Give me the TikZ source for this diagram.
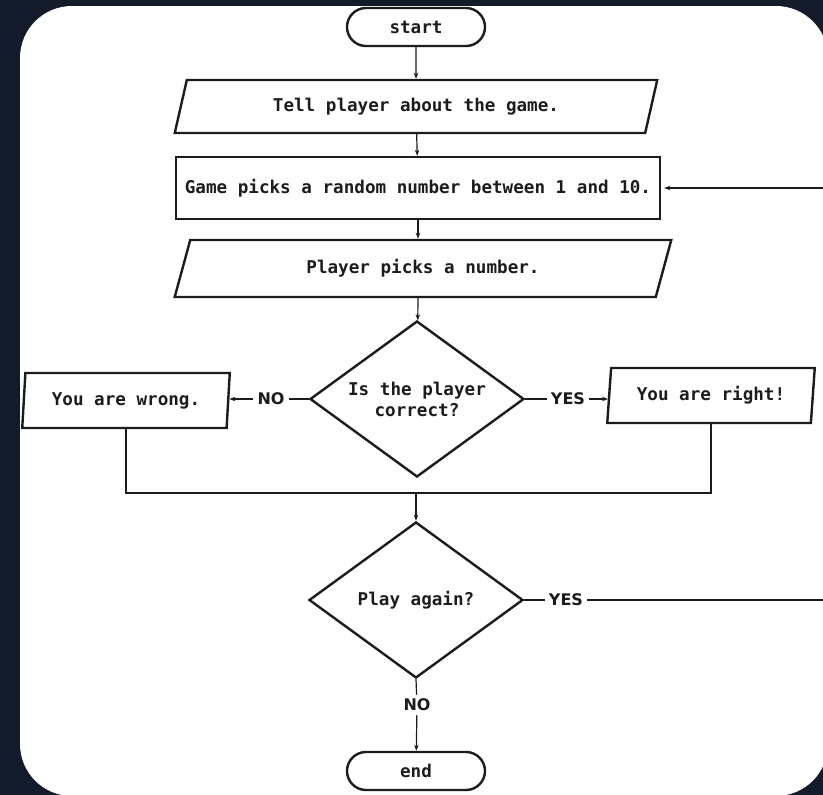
\documentclass[tikz,border=0pt]{standalone}
\usepackage{fontspec}
\setmonofont{DejaVu Sans Mono}
\newfontfamily\labelfont{DejaVu Sans}
\usepackage{tikz}
\usetikzlibrary{arrows.meta,shapes.geometric,positioning}
\definecolor{navy}{RGB}{19,26,42}
\definecolor{ink}{RGB}{28,28,28}

\begin{document}
\begin{tikzpicture}[x=1pt,y=-1pt,
			every node/.style={font=\fontsize{17.6}{21}\selectfont\ttfamily\bfseries,text=ink},
			terminal/.style={draw=ink,line width=2.4pt,rounded corners=19pt,minimum width=138pt,minimum height=38pt},
			io/.style={draw=ink,line width=2.4pt,trapezium,trapezium left angle=72,trapezium right angle=108,
				trapezium stretches=true,minimum height=53pt},
			process/.style={draw=ink,line width=2.4pt,minimum width=484pt,minimum height=62pt},
			decision/.style={draw=ink,line width=2.4pt,diamond,aspect=1.38,minimum width=214pt,minimum height=156pt,
				inner sep=0pt,align=center},
			answer/.style={font=\fontsize{16}{18}\selectfont\labelfont\bfseries,inner sep=4pt},
			flow/.style={draw=ink,line width=1.2pt,-{Stealth[length=6pt,width=4.5pt]}},
			link/.style={draw=ink,line width=1.2pt}]

			\useasboundingbox (0,0) rectangle (823,795);
			\fill[navy] (0,0) rectangle (823,795);
			\fill[white,rounded corners=52pt] (20,6) rectangle (828,796);

			\node [terminal] (start) at (416,27) {start};
			\node [io,minimum width=484pt] (tell) at (416,106.5) {Tell player about the game.};
			\node [process] (rand) at (418,188) {Game picks a random number between 1 and 10.};
			\node [io,minimum width=497pt,minimum height=57pt] (pick) at (423,268.5) {Player picks a number.};
			\node [decision] (correct) at (417,399) {Is the player\\correct?};
			\node [io,minimum width=208pt,minimum height=55pt,trapezium left angle=84,trapezium right angle=96]
				(wrong) at (126,400.5) {You are wrong.};
			\node [io,minimum width=208pt,minimum height=55pt,trapezium left angle=83,trapezium right angle=97]
				(right) at (711,395.5) {You are right!};
			\node [decision] (again) at (416,600) {Play again?};
			\node [terminal] (end) at (416,771) {end};

			\node [answer] (no1) at (271,399) {NO};
			\node [answer] (yes1) at (568,399) {YES};
			\node [answer] (yes2) at (566,600) {YES};
			\node [answer] (no2) at (417,705) {NO};

			\coordinate (join) at (416,493);
			\coordinate (back) at (840,600);

			% main column
			\draw [flow] (start) -- (tell);
			\draw [flow] (tell) -- (rand);
			\draw [flow] (rand) -- (rand |- pick.north);
			\draw [flow] (rand |- pick.south) -- (correct);

			% first question
			\draw [link] (correct.west) -- (no1);
			\draw [flow] (no1) -- (no1 -| wrong.east);
			\draw [link] (correct.east) -- (yes1);
			\draw [flow] (yes1) -- (yes1 -| right.west);
			\draw [link] (wrong.south) |- (join) -| (right.south);
			\draw [flow] (join) -- (again);

			% second question
			\draw [link] (again.east) -- (yes2);
			\draw [flow] (yes2) -- (back) |- ([xshift=3pt]rand.east);
			\draw [link] (again.south) -- (no2);
			\draw [flow] (no2) -- (end);
	\end{tikzpicture}
\end{document}
